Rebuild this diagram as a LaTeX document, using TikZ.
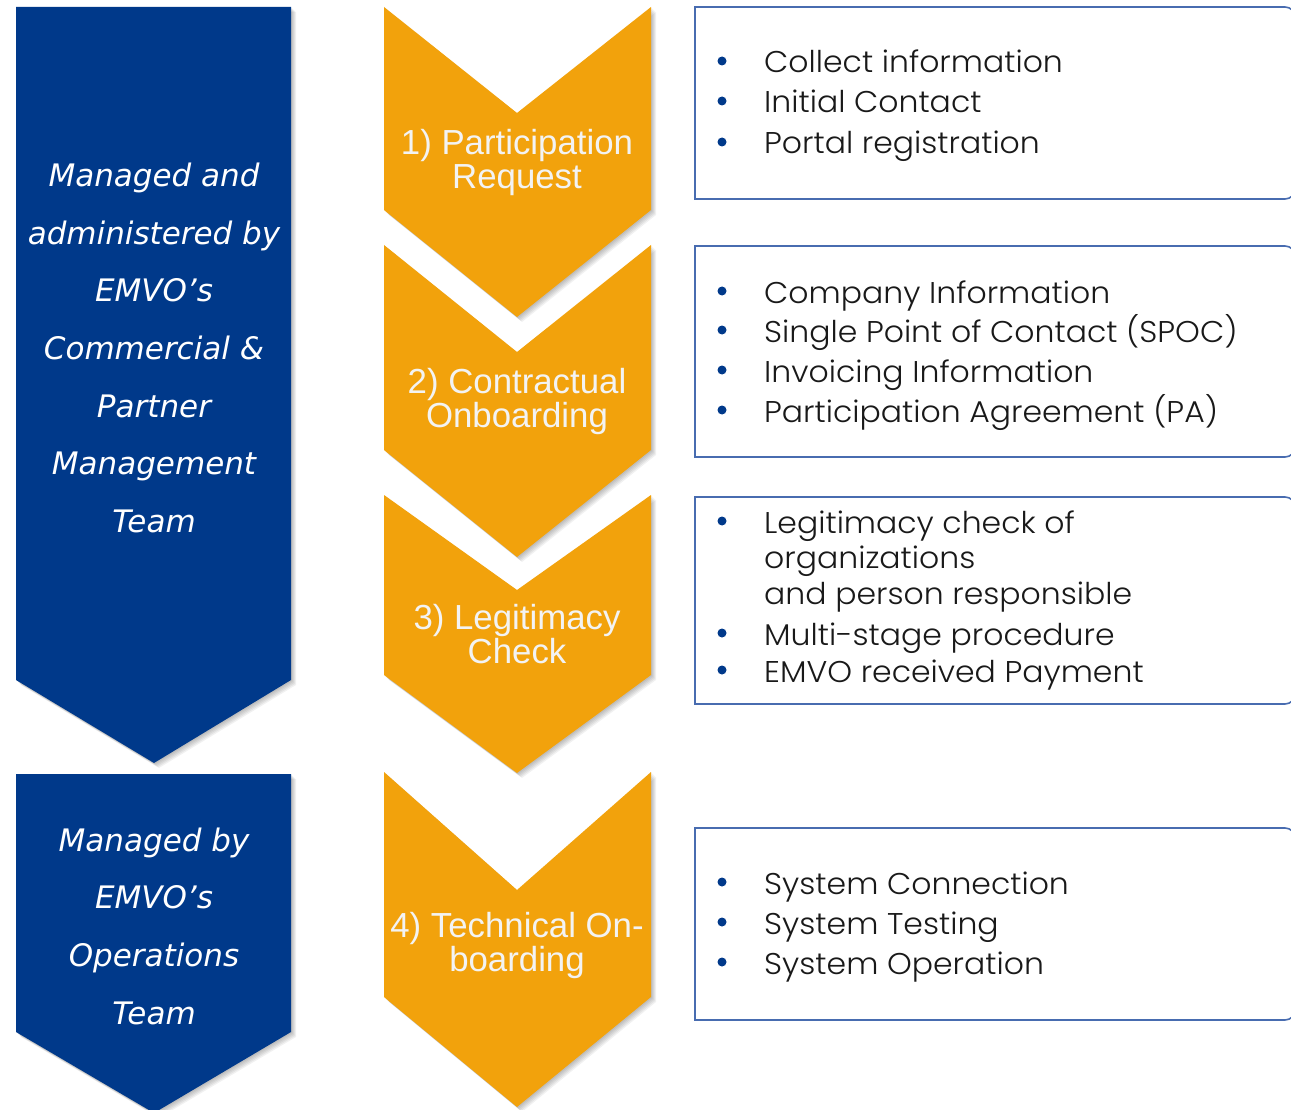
\documentclass[tikz,border=0pt]{standalone}
\usepackage{fontspec}
\newfontfamily\bluefont{DejaVu Sans Oblique}
\newfontfamily\chevfont{Liberation Sans}
\newfontfamily\boxfont{Poppins Light}[FakeStretch=1.05]
\definecolor{emvoblue}{RGB}{0,57,138}
\definecolor{emvoorange}{RGB}{242,162,12}
\definecolor{framecol}{RGB}{72,108,176}
\definecolor{chevtext}{RGB}{243,243,243}
\definecolor{itemtext}{RGB}{25,25,25}
\newcommand{\shadowfill}[2]{%
  \foreach \d in {1,...,5}{\fill[black,opacity=0.055,shift={(\d,\d)}] #2;}%
  \fill[#1] #2;}
\begin{document}
\begin{tikzpicture}[x=1pt,y=-1pt,
  bluetxt/.style={text=white,align=center,inner sep=0pt,
    font=\bluefont\fontsize{31}{57.7}\selectfont},
  chevtxt/.style={text=chevtext,align=center,inner sep=0pt,
    font=\chevfont\fontsize{34.8}{34}\selectfont},
  itemtxt/.style={text=itemtext,anchor=base west,inner sep=0pt,
    font=\boxfont\fontsize{30}{35}\selectfont},
  infobox/.style={draw=framecol,line width=1.6pt},
  bulletdot/.style={fill=emvoblue,draw=none}]
\useasboundingbox (0,0) rectangle (1291,1110);
\fill[white] (0,0) rectangle (1291,1110);

% blue chevrons
\shadowfill{emvoblue}{(16,7) -- (291,7) -- (291,680) -- (154,763) -- (16,680) -- cycle}
\shadowfill{emvoblue}{(16,774) -- (291,774) -- (291,1032) -- (154,1113) -- (16,1032) -- cycle}

% orange chevrons
\shadowfill{emvoorange}{(384,7) -- (517,113) -- (651,7) -- (651,210) -- (517,317) -- (384,210) -- cycle}
\shadowfill{emvoorange}{(384,245) -- (517,352) -- (651,245) -- (651,450) -- (517,557) -- (384,450) -- cycle}
\shadowfill{emvoorange}{(384,495) -- (517,590) -- (651,495) -- (651,675) -- (517,773) -- (384,675) -- cycle}
\shadowfill{emvoorange}{(384,772) -- (517,890) -- (651,772) -- (651,997) -- (517,1107) -- (384,997) -- cycle}

% texts in blue chevrons
\node[bluetxt] (team1) at (154,348) {Managed and\\administered by\\EMVO’s\\Commercial \&\\Partner\\Management\\Team};
\node[bluetxt] (team2) at (154,926) {Managed by\\EMVO’s\\Operations\\Team};

% texts in orange chevrons
\node[chevtxt] (step1) at (517,163) {1) Participation\\Request};
\node[chevtxt] (step2) at (517,402) {2) Contractual\\Onboarding};
\node[chevtxt] (step3) at (517,634) {3) Legitimacy\\Check};
\node[chevtxt] (step4) at (517,945) {4) Technical On-\\boarding};

% boxes
\draw[infobox] (695,7) [rounded corners=10pt] -- (1295,7) -- (1295,199) [sharp corners] -- (695,199) -- cycle;
\draw[infobox] (695,246) [rounded corners=10pt] -- (1295,246) -- (1295,457) [sharp corners] -- (695,457) -- cycle;
\draw[infobox] (695,497) [rounded corners=10pt] -- (1295,497) -- (1295,704) [sharp corners] -- (695,704) -- cycle;
\draw[infobox] (695,828) [rounded corners=10pt] -- (1295,828) -- (1295,1020) [sharp corners] -- (695,1020) -- cycle;

% box 1
\foreach \yy/\nm/\tx in {73/a1/Collect information,113/a2/Initial Contact,154/a3/Portal registration}{
  \fill[bulletdot] (722,\yy-12) circle (4.5);
  \node[itemtxt] (\nm) at (764,\yy) {\tx};}
% box 2
\foreach \yy/\nm/\tx in {303/b1/Company Information,342/b2/Single Point of Contact (SPOC),382/b3/Invoicing Information,422/b4/Participation Agreement (PA)}{
  \fill[bulletdot] (722,\yy-12) circle (4.5);
  \node[itemtxt] (\nm) at (764,\yy) {\tx};}
% box 3
\foreach \yy in {533,645,682}{\fill[bulletdot] (722,\yy-12) circle (4.5);}
\node[itemtxt] (c1) at (764,533) {Legitimacy check of};
\node[itemtxt] (c2) at (764,568) {organizations};
\node[itemtxt] (c3) at (764,604) {and person responsible};
\node[itemtxt] (c4) at (764,645) {Multi-stage procedure};
\node[itemtxt] (c5) at (764,682) {EMVO received Payment};
% box 4
\foreach \yy/\nm/\tx in {894/d1/System Connection,934/d2/System Testing,974/d3/System Operation}{
  \fill[bulletdot] (722,\yy-12) circle (4.5);
  \node[itemtxt] (\nm) at (764,\yy) {\tx};}
\end{tikzpicture}
\end{document}
